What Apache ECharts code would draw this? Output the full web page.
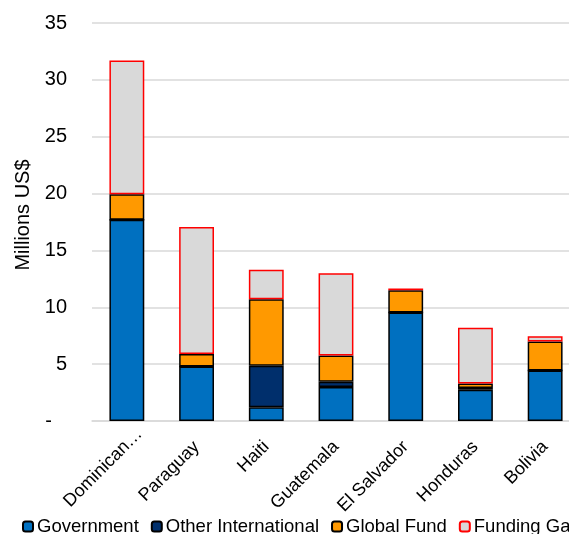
<!DOCTYPE html>
<html>
<head>
<meta charset="utf-8">
<script src="https://cdn.jsdelivr.net/npm/echarts@6/dist/echarts.min.js"></script>
<style>html,body{margin:0;padding:0;background:#fff;}#c{width:569px;height:534px;}</style>
</head>
<body>
<div id="c"></div>
<script>
const categories = ['Dominican Republic', 'Paraguay', 'Haiti', 'Guatemala', 'El Salvador', 'Honduras', 'Bolivia'];
const government = [17.7, 4.8, 1.2, 3.0, 9.55, 2.75, 4.45];
const otherInternational = [0, 0, 3.65, 0.45, 0, 0.15, 0];
const globalFund = [2.25, 1.1, 5.85, 2.3, 1.95, 0.4, 2.55];
const fundingGap = [11.75, 11.15, 2.6, 7.25, 0.15, 4.9, 0.45];
const yTicks = [0, 5, 10, 15, 20, 25, 30, 35];

const FONT = 'Liberation Sans, Arial, sans-serif';
const chart = echarts.init(document.getElementById('c'), null, {renderer: 'canvas'});

function bar(name, data, color, border) {
  return {
    name: name, type: 'bar', stack: 'total', data: data,
    barWidth: '50%',
    itemStyle: {color: color, borderColor: border, borderWidth: 1.5},
    emphasis: {disabled: true}
  };
}

const xData = categories.map(function (c, i) {
  return i === 0 ? {value: c, textStyle: {padding: [0, -18, 0, 0]}} : c;
});

chart.setOption({
  animation: false,
  textStyle: {fontFamily: FONT},
  grid: {left: 92, right: -11, top: 23, bottom: 113, containLabel: false, outerBoundsMode: 'none'},
  legend: {
    left: 17, bottom: -7, width: 900,
    itemWidth: 10, itemHeight: 10, itemGap: 12,
    textStyle: {fontSize: 18.5, color: '#000', fontFamily: FONT, padding: [0, 0, 0, -1]},
    data: ['Government', 'Other International', 'Global Fund', 'Funding Gap']
  },
  xAxis: {
    type: 'category', data: xData,
    axisLine: {lineStyle: {color: '#d9d9d9', width: 1.5}},
    axisTick: {show: false},
    axisLabel: {
      interval: 0, rotate: 45, margin: 23, fontSize: 18, color: '#000', fontFamily: FONT,
      formatter: function (v) { return v.length > 12 ? v.slice(0, 9) + '…' : v; }
    }
  },
  yAxis: {
    type: 'value', min: yTicks[0], max: yTicks[yTicks.length - 1], interval: 5,
    name: 'Millions US$', nameLocation: 'middle', nameGap: 59,
    nameTextStyle: {fontSize: 20, color: '#000', fontFamily: FONT, padding: [0, 0, 0, 14]},
    axisLine: {show: false}, axisTick: {show: false},
    splitLine: {lineStyle: {color: '#d9d9d9', width: 1.5}},
    axisLabel: {
      margin: 25, fontSize: 20, color: '#000', fontFamily: FONT,
      formatter: function (v) { return v === 0 ? '{d|-}' : String(v); },
      rich: {d: {fontSize: 20, color: '#000', fontFamily: FONT, padding: [0, 15, 0, 0]}}
    }
  },
  series: [
    bar('Government', government, '#0070c0', '#000'),
    bar('Other International', otherInternational, '#002f6c', '#000'),
    bar('Global Fund', globalFund, '#ff9900', '#000'),
    bar('Funding Gap', fundingGap, '#d9d9d9', '#ff0000')
  ]
});
</script>
</body>
</html>
